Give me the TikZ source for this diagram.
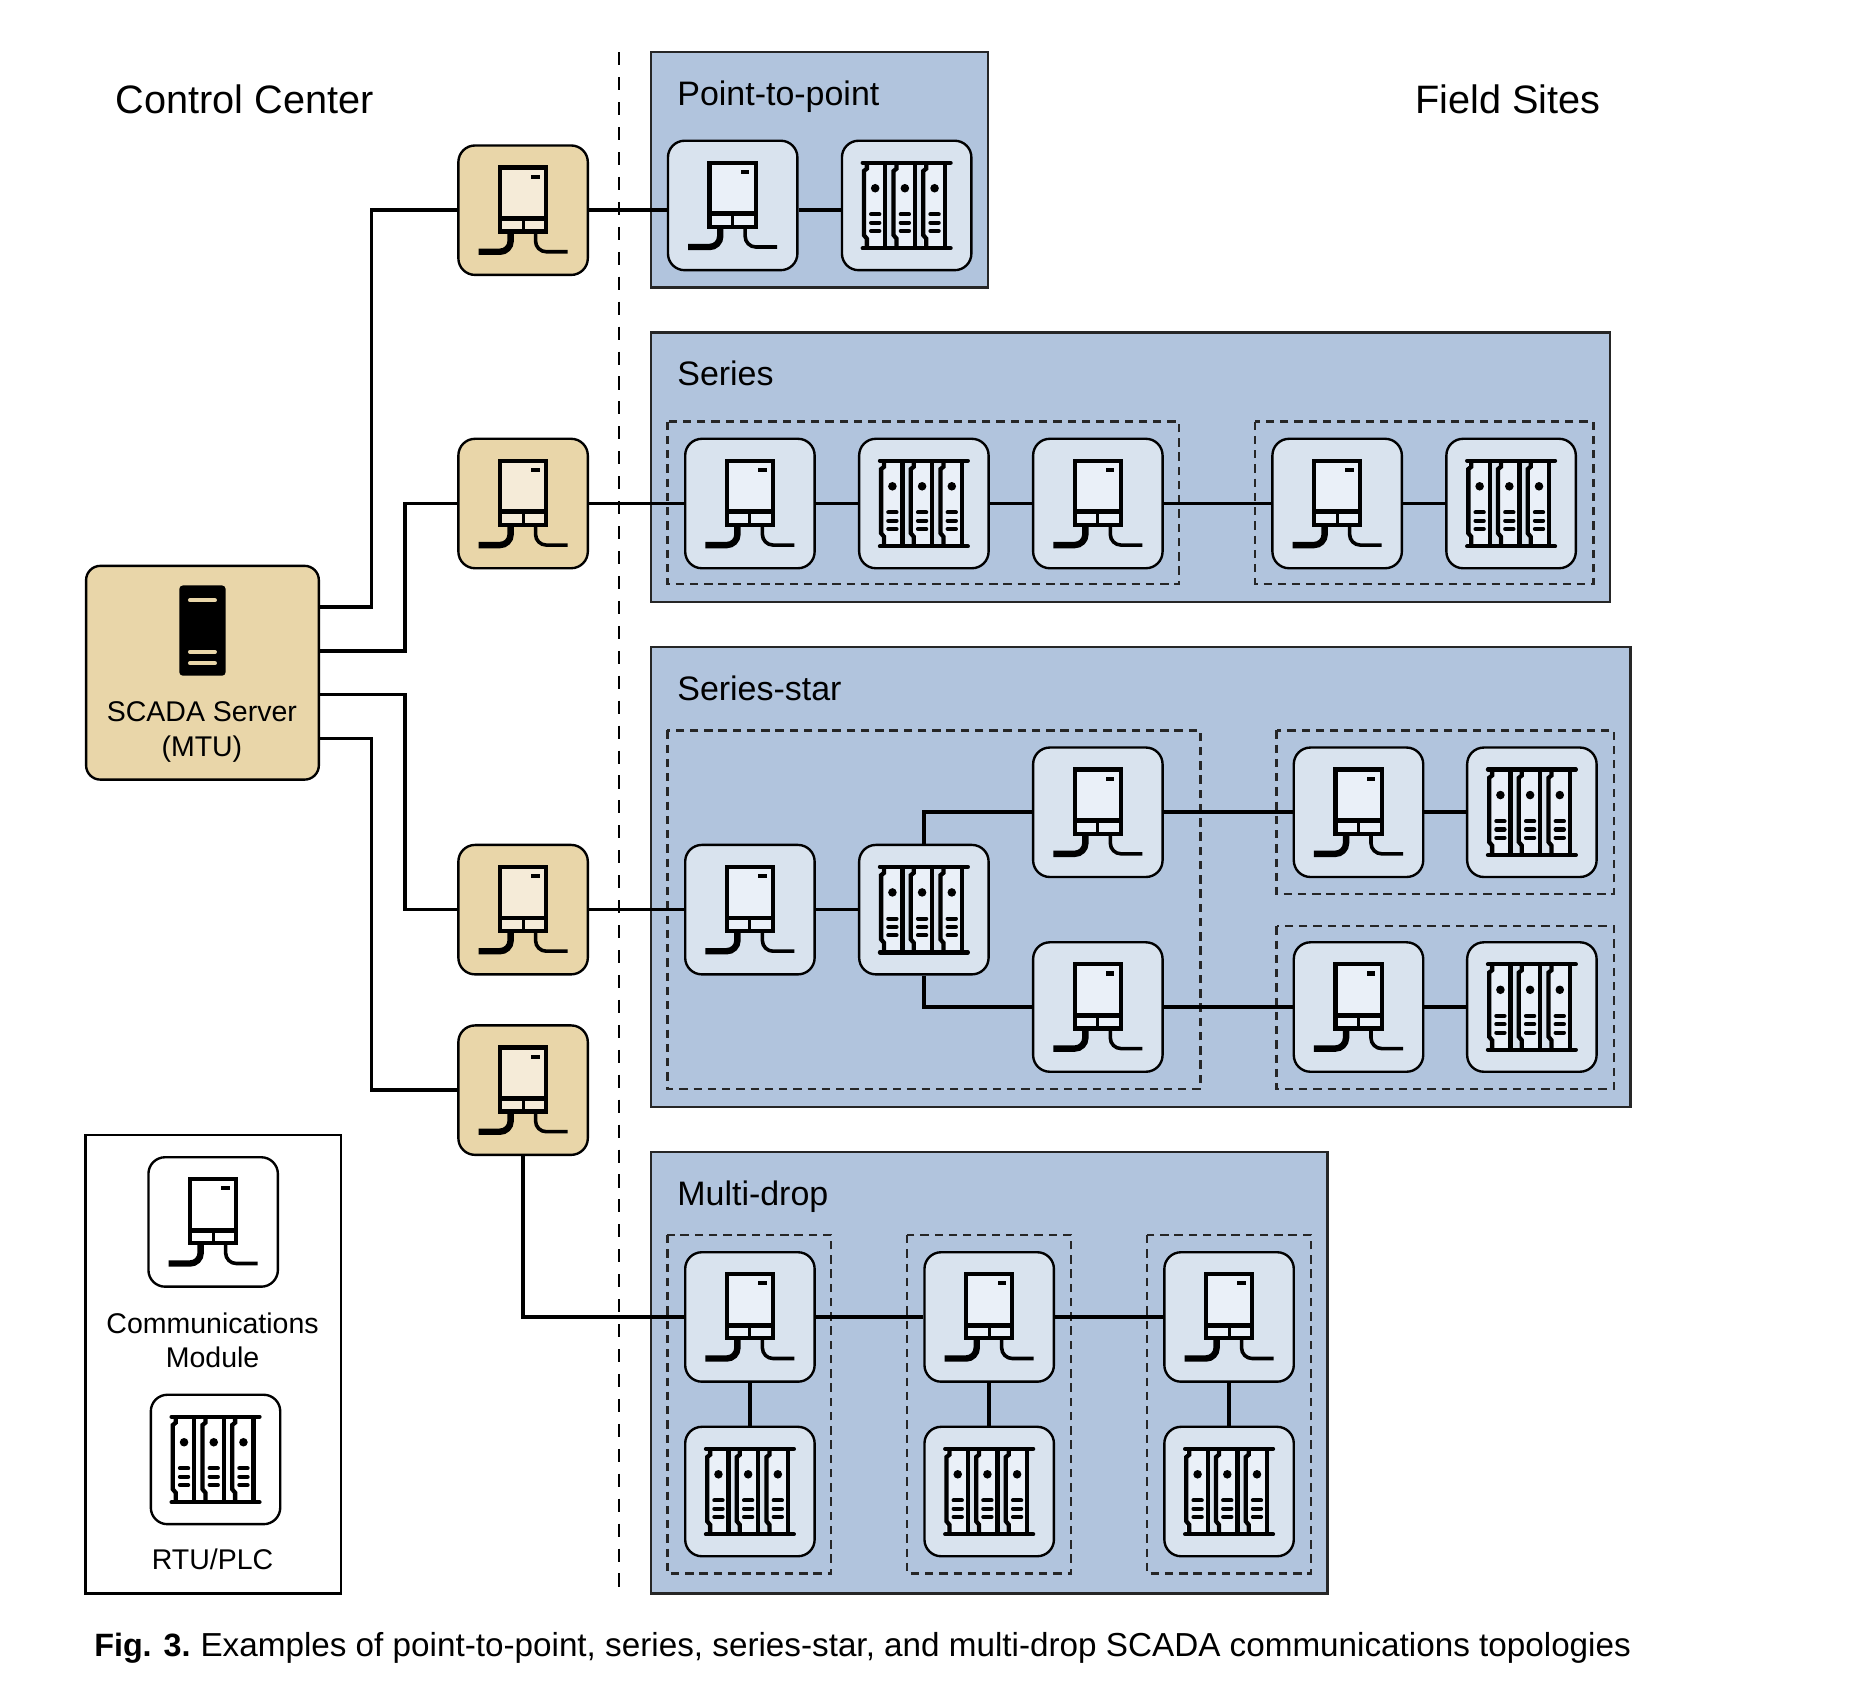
\documentclass[tikz,border=0pt]{standalone}
\usepackage{fontspec}
\setmainfont{Liberation Sans}
\definecolor{tanbox}{HTML}{E9D6A9}
\definecolor{tanicon}{HTML}{F5EBD8}
\definecolor{bluegroup}{HTML}{B1C4DD}
\definecolor{bluebox}{HTML}{D9E3EE}
\definecolor{blueicon}{HTML}{EAF0F8}
\tikzset{
	devbox/.style={draw=black,line width=1pt,rounded corners=7pt,minimum size=54.5pt,inner sep=0pt},
	combox/.style={devbox,fill=bluebox},
	tancombox/.style={devbox,fill=tanbox},
	keybox/.style={devbox,fill=white},
	groupbg/.style={draw=black!85,line width=1pt,fill=bluegroup},
	groupline/.style={draw=black!85,line width=1pt,dash pattern=on 3.5pt off 2.5pt},
	wire/.style={draw=black,line width=1.5pt},
	bigtext/.style={font=\fontsize{16.7}{20}\selectfont},
	grouptext/.style={anchor=base west,inner sep=0pt,font=\fontsize{14.3}{17}\selectfont},
	smalltext/.style={align=center,inner sep=0pt,font=\fontsize{12}{14.5}\selectfont},
	pics/comicon/.style={code={
		\draw[line width=1.8pt,fill=#1] (-19.5,-36) rectangle (19.5,18);
		\draw[line width=2pt] (-19.5,7) -- (19.5,7);
		\draw[line width=1.3pt] (0,7) -- (0,18);
		\fill (7,-30) rectangle (14,-26.5);
		\draw[line width=2.7pt,rounded corners=4.5pt] (-10.5,18) -- (-10.5,35) -- (-37.5,35);
		\draw[line width=1.5pt,rounded corners=4.5pt] (10.5,18) -- (10.5,35) -- (37.5,35);
	}},
	pics/rtuicon/.style={code={
		\foreach \x in {-36,-11,14}{
			\fill[#1] (\x,-36) rectangle (\x+18,36);
			\draw[line width=1.8pt] (\x+2.5,-36) -- (\x+2.5,-31) -- (\x,-29) -- (\x,25) -- (\x+2.5,28) -- (\x+2.5,36);
			\draw[line width=1.8pt] (\x+18,-36) -- (\x+18,36);
			\fill (\x+9.5,-14.5) circle (1.8pt);
			\foreach \y in {7.5,14.5,21.5}{
				\draw[line width=1.7pt,line cap=round] (\x+6,\y) -- (\x+13,\y);
			}
		}
		\draw[line width=1.8pt,line cap=round] (-37,-36) -- (37,-36);
		\draw[line width=1.8pt,line cap=round] (-37,36) -- (37,36);
	}}
}
\begin{document}
\begin{tikzpicture}[x=0.5pt,y=-0.5pt]
	\useasboundingbox (0,0) rectangle (1568,1421);
	%groups
	\draw[groupbg] (548,44) rectangle (832,242);
	\draw[groupbg] (548,280) rectangle (1356,507);
	\draw[groupbg] (548,545) rectangle (1373,932);
	\draw[groupbg] (548,970) rectangle (1118,1342);
	\draw[draw=black,line width=1pt] (72,956) rectangle (287,1342);
	\foreach \xa/\ya/\xb/\yb in {562/355/993/492, 1057/355/1342/492, 562/615/1011/917, 1075/615/1359/753, 1075/780/1359/917, 562/1040/700/1325, 764/1040/902/1325, 966/1040/1104/1325}{
		\draw[groupline] (\xa,\ya) rectangle (\xb,\yb);
	}
	\draw[black,line width=0.9pt,dash pattern=on 5.5pt off 5pt] (521.5,44) -- (521.5,1342);
	
	\node (srv) at (170.5,566.5) [draw=black,line width=1pt,fill=tanbox,rounded corners=6pt,minimum width=98pt,minimum height=90pt,inner sep=0pt]{};
	\fill[black,rounded corners=1.5pt] (151,493) rectangle (190,569);
	\foreach \y in {505.5,549,558.5}{
		\draw[tanbox,line width=1.7pt,line cap=round] (160,\y) -- (181,\y);
	}
	
	%comm modules
	\foreach \nm/\x/\y in {tanA/440.5/177, tanB/440.5/424, tanC/440.5/766, tanD/440.5/918}{
		\node (\nm) at (\x,\y) [tancombox]{};
		\pic at (\nm) {comicon=tanicon};
	}
	\foreach \nm/\x/\y in {ptA/617/173, seA/631.5/424, seB/924.5/424, seC/1126/424, stA/631.5/766, stB/924.5/684, stC/924.5/848, stD/1144/684, stE/1144/848, muA/631.5/1109, muB/833/1109, muC/1035/1109}{
		\node (\nm) at (\x,\y) [combox]{};
		\pic at (\nm) {comicon=blueicon};
	}
	%rtus
	\foreach \nm/\x/\y in {ptR/763.5/173, seR/778/424, seS/1272.5/424, stR/778/766, stS/1290/684, stT/1290/848, muR/631.5/1256, muS/833/1256, muT/1035/1256}{
		\node (\nm) at (\x,\y) [combox]{};
		\pic at (\nm) {rtuicon=blueicon};
	}
	%legend
	\node (keyC) at (179.5,1029) [keybox]{};
	\pic at (keyC) {comicon=white};
	\node (keyR) at (181.5,1229) [keybox]{};
	\pic at (keyR) {rtuicon=white};
	
	%server wires
	\coordinate (srvA) at (srv.east |- 0,511);
	\coordinate (srvB) at (srv.east |- 0,548);
	\coordinate (srvC) at (srv.east |- 0,585);
	\coordinate (srvD) at (srv.east |- 0,622);
	\draw[wire] (srvA) -- (313,511) |- (tanA.west);
	\draw[wire] (srvB) -- (341,548) |- (tanB.west);
	\draw[wire] (srvC) -- (341,585) |- (tanC.west);
	\draw[wire] (srvD) -- (313,622) |- (tanD.west);
	\draw[wire] (tanD.south) |- (muA.west);
	
	%links
	\draw[wire] (tanA.east) -- (tanA.east -| ptA.west);
	\draw[wire] (tanA.east -| ptA.east) -- (tanA.east -| ptR.west);
	\foreach \a/\b in {tanB/seA, seA/seR, seR/seB, seB/seC, seC/seS, tanC/stA, stA/stR, stB/stD, stD/stS, stC/stE, stE/stT, muA/muB, muB/muC, muA/muR, muB/muS, muC/muT}{
		\draw[wire] (\a) -- (\b);
	}
	\draw[wire] (stR.north) |- (stB.west);
	\draw[wire] (stR.south) |- (stC.west);
	
	%labels
	\node (ccLabel) at (206,84) [bigtext]{Control Center};
	\node (fsLabel) at (1270,84) [bigtext]{Field Sites};
	\foreach \nm/\y/\t in {ptLabel/89/Point-to-point, seLabel/325/Series, stLabel/590/Series-star, muLabel/1015/Multi-drop}{
		\node (\nm) at (570,\y) [grouptext]{\t};
	}
	\node (srvLabel) at (170,616.5) [smalltext]{SCADA Server\\(MTU)};
	\node (keyCLabel) at (179,1128.5) [smalltext]{Communications\\Module};
	\node (keyRLabel) at (179,1313) [smalltext]{RTU/PLC};
	\node (caption) at (79,1388) [anchor=west,inner sep=0pt,font=\fontsize{14}{17}\selectfont]{{\fontsize{13.6}{17}\selectfont\bfseries Fig. 3.}\kern-1pt{} Examples of point-to-point, series, series-star, and multi-drop SCADA communications topologies};
\end{tikzpicture}
\end{document}
